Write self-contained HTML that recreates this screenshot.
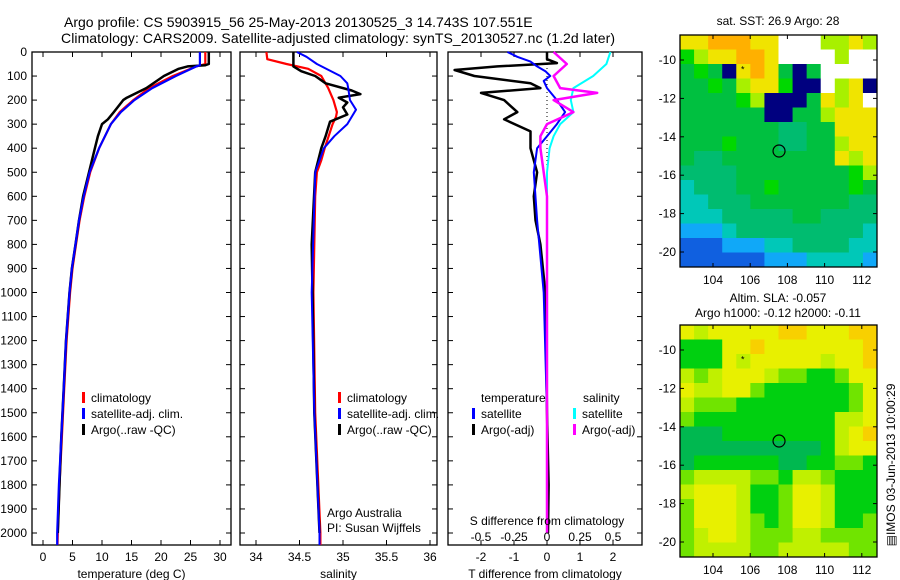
<!DOCTYPE html>
<html><head><meta charset="utf-8"><style>
body{margin:0;background:#fff;}
svg{display:block;font-family:"Liberation Sans",sans-serif;}
text{fill:#000;}
</style></head><body>
<svg id="s" width="900" height="580" viewBox="0 0 900 580">
<text x="64" y="27" font-size="14">Argo profile: CS 5903915_56 25-May-2013 20130525_3 14.743S 107.551E</text>
<text x="61" y="43" font-size="14" textLength="554">Climatology: CARS2009. Satellite-adjusted climatology: synTS_20130527.nc (1.2d later)</text>
</svg>
<script>
const depthTicks=[0,100,200,300,400,500,600,700,800,900,1000,1100,1200,1300,1400,1500,1600,1700,1800,1900,2000];
const tempTicks=[0,5,10,15,20,25,30];
const salTicks=[34,34.5,35,35.5,36];
const salTickLabels=["34","34.5","35","35.5","36"];
const tdTicks=[-2,-1,0,1,2];
const sdTicks=[-0.5,-0.25,0,0.25,0.5];
const sdTickLabels=["-0.5","-0.25","0","0.25","0.5"];
// temperature profiles
const tClimD=[0,50,60,100,150,200,250,300,400,500,600,700,800,900,1000,1200,1400,1600,1800,2000,2050];
const tClim=[27.5,27.5,26,22,18,15.3,13,11.5,9.5,8,7,6.2,5.6,5.0,4.6,4.0,3.6,3.2,2.8,2.5,2.45];
const tSatD=[0,55,60,100,150,200,250,300,400,500,600,700,800,900,1000,1200,1400,1600,1800,2000,2050];
const tSat=[26.6,26.6,26,22.5,18.5,15.5,13.2,11.5,9.5,7.9,6.9,6.1,5.5,4.9,4.5,3.9,3.5,3.1,2.7,2.4,2.4];
const tArgoD=[0,50,55,60,70,100,150,190,200,250,280,300,350,400,500,600,700,800,900,1000,1200,1400,1600,1800,2000];
const tArgo=[28.1,28.1,27.5,24.5,23,20.5,17.5,14.2,13.6,12,11,10,9.3,8.8,7.8,6.8,6.1,5.5,4.9,4.5,3.9,3.5,3.1,2.8,2.5];
// salinity profiles
const sClimD=[0,30,50,70,100,150,200,250,270,300,400,450,500,600,1000,1500,2000,2050];
const sClim=[34.12,34.13,34.35,34.6,34.75,34.83,34.89,34.93,34.92,34.88,34.79,34.75,34.70,34.68,34.66,34.68,34.74,34.74];
const sSatD=[0,20,50,100,130,150,200,240,300,350,400,500,1000,1500,2000,2050];
const sSat=[34.47,34.58,34.7,34.97,35.05,35.06,35.08,35.15,35.05,34.9,34.78,34.68,34.64,34.67,34.73,34.73];
const sArgoD=[0,60,80,100,130,160,175,190,210,230,260,290,350,400,500,800,1000,1500,2000];
const sArgo=[34.43,34.43,34.52,34.68,34.8,35.1,35.2,34.95,35.05,35.0,35.05,34.85,34.8,34.75,34.68,34.64,34.65,34.67,34.73];
// difference profiles
const dTArgoD=[0,30,46,60,75,100,130,150,170,200,250,280,330,400,500,600,700,800,1000,1500,1800,2000];
const dTArgo=[0,0,0.3,-1.5,-2.8,-2.2,-0.5,-0.2,-2,-1.3,-0.9,-1.3,-0.5,-0.5,-0.3,-0.4,-0.35,-0.2,-0.05,0,0.05,0.03];
const dTSatD=[0,20,40,60,80,100,120,150,200,250,300,350,400,500,700,1000,1500,2000];
const dTSat=[-1.2,-0.9,-0.5,-0.3,-0.05,0.1,-0.1,0,0.3,0.55,0.3,0,-0.3,-0.4,-0.3,-0.1,0,0];
const dSArgoD=[0,50,100,150,170,200,250,300,350,400,600,1000,2000];
const dSArgo=[0.05,0.15,0.05,0.1,0.38,0.05,0.2,0,-0.05,-0.05,0,0,0];
const dSSatD=[0,50,100,150,200,250,300,350,400,500,1000,2000];
const dSSat=[0.48,0.45,0.35,0.2,0.18,0.2,0.1,0.05,0.02,0,0,0];
// map grids (lon 102.5..112.9, lat -8.7..-20.7), values index into colormaps
const sstRows=["8899988WWW7787","6788998WWWW7WW","5650898505WWWW","5565788600W780","5555670005878W","55555500557888","55555554455888","55565554455788","54455555555878","44445555555567","34445565555565","33444555555544","33344444554444","22234444444443","11122233444433","11111122233332"];
const slaRows=["43444445544455","11144544444445","11143444443445","32344432211244","43344211111124","32221111111124","21111111111334","00011111111345","00000000001344","01111110011221","23333221332111","34443112443111","24443112443111","24443212443112","23443222332222","23333223333322"];
const lonTicks=[104,106,108,110,112];
const latTicks=[-10,-12,-14,-16,-18,-20];
const argoPos=[107.55,-14.74];
const prevPos=[105.6,-10.5];

const NS="http://www.w3.org/2000/svg";
const svg=document.getElementById('s');
function mk(tag,attrs,parent){const e=document.createElementNS(NS,tag);for(const k in attrs)e.setAttribute(k,attrs[k]);(parent||svg).appendChild(e);return e;}
const yTop=52,yBot=545;
const yD=d=>yTop+d*0.2405;
function panel(x0,x1,fx,ticks,labels,name,title){
  const g=mk('g',{});
  
  
  const r=mk('rect',{x:x0,y:yTop,width:x1-x0,height:yBot-yTop,fill:'none',stroke:'#000','stroke-width':1.3},g);
  
  
  ticks.forEach((t,i)=>{const x=fx(t);
    mk('line',{x1:x,x2:x,y1:yBot,y2:yBot-5,stroke:'#000'},g);
    mk('line',{x1:x,x2:x,y1:yTop,y2:yTop+5,stroke:'#000'},g);
    const tx=mk('text',{x:x,y:561,'font-size':12,'text-anchor':'middle'},g);tx.textContent=labels[i];
    
    
  });
  depthTicks.forEach(d=>{const y=yD(d);
    mk('line',{x1:x0,x2:x0+5,y1:y,y2:y,stroke:'#000'},g);
    mk('line',{x1:x1,x2:x1-5,y1:y,y2:y,stroke:'#000'},g);});
  const tt=mk('text',{x:(x0+x1)/2,y:578,'font-size':12,'text-anchor':'middle'},g);tt.textContent=title;
  
  
  return g;
}
function line(ds,vs,fx,color,w,name){
  const p=ds.map((d,i)=>(i?'L':'M')+fx(vs[i]).toFixed(1)+','+yD(d).toFixed(1)).join('');
  const e=mk('path',{d:p,fill:'none',stroke:color,'stroke-width':w,'stroke-linejoin':'round'});
  
  
}
function txt(x,y,s,name,extra){const t=mk('text',Object.assign({x:x,y:y,'font-size':12},extra||{}));t.textContent=s;
  
  return t;}
function leg(x,y,c,s,name){mk('rect',{x:x,y:y-10,width:3,height:11,fill:c});txt(x+9,y,s,name);}

depthTicks.forEach(d=>{txt(27,yD(d)+4,String(d),'y-tick-label',{'text-anchor':'end'});});

const fT=v=>43+v*5.9;
panel(32,231,fT,tempTicks,tempTicks.map(String),'temperature-panel','temperature (deg C)');
line(tClimD,tClim,fT,'#f00',2.2,'temp-climatology-line');
line(tArgoD,tArgo,fT,'#000',2.5,'temp-argo-line');
line(tSatD,tSat,fT,'#00f',2.2,'temp-satellite-line');
leg(82,402,'#f00','climatology','legend-climatology');
leg(82,418,'#00f','satellite-adj. clim.','legend-satellite');
leg(82,434,'#000','Argo(..raw -QC)','legend-argo');

const fS=v=>256+(v-34)*87;
panel(240,437,fS,salTicks,salTickLabels,'salinity-panel','salinity');
line(sClimD,sClim,fS,'#f00',2.2,'sal-climatology-line');
line(sArgoD,sArgo,fS,'#000',2.5,'sal-argo-line');
line(sSatD,sSat,fS,'#00f',2,'sal-satellite-line');
leg(338,402,'#f00','climatology','legend-climatology');
leg(338,418,'#00f','satellite-adj. clim.','legend-satellite');
leg(338,434,'#000','Argo(..raw -QC)','legend-argo');
txt(327,517,'Argo Australia','credit-line-1');
txt(327,532,'PI: Susan Wijffels','credit-line-2');

const fdT=v=>547+v*33, fdS=v=>547+v*132;
panel(448,642,fdT,tdTicks,tdTicks.map(String),'difference-panel','T difference from climatology');
mk('line',{x1:547,x2:547,y1:yTop,y2:yD(900),stroke:'#000','stroke-dasharray':'1,3'});
line(dTArgoD,dTArgo,fdT,'#000',2.5,'tdiff-argo-line');
line(dTSatD,dTSat,fdT,'#00f',2,'tdiff-satellite-line');
line(dSSatD,dSSat,fdS,'#0ff',2,'sdiff-satellite-line');
line(dSArgoD,dSArgo,fdS,'#f0f',2.5,'sdiff-argo-line');
txt(481,402,'temperature','legend-temperature-header');
txt(583,402,'salinity','legend-salinity-header');
leg(472,418,'#00f','satellite','legend-t-satellite');
leg(472,434,'#000','Argo(-adj)','legend-t-argo');
leg(573,418,'#0ff','satellite','legend-s-satellite');
leg(573,434,'#f0f','Argo(-adj)','legend-s-argo');
txt(547,525,'S difference from climatology','s-axis-title',{'text-anchor':'middle'});
sdTicks.forEach((v,i)=>txt(fdS(v),541,sdTickLabels[i],'s-tick-label',{'text-anchor':'middle'}));

const sstCol={'0':'#00007f','1':'#1060e0','2':'#10a8f8','3':'#00c8b8','4':'#00bc70','5':'#00c040','6':'#00d800','7':'#a8f000','8':'#f0e400','9':'#ffb000','W':'#ffffff'};
const slaCol={'0':'#00b850','1':'#00d010','2':'#70e400','3':'#c0f000','4':'#e8f000','5':'#f8d000'};
function map(y0,rows,cols,name,grid){
  const x0=680,x1=877,y1=y0+232;
  const fx=l=>713+(l-104)*18.6, fy=la=>y0+25+(-10-la)*19.2;
  const g=mk('g',{});
  
  
  const nr=rows.length,nc=rows[0].length,cw=(x1-x0)/nc,ch=(y1-y0)/nr;
  rows.forEach((r,i)=>{for(let j=0;j<nc;j++){const c=mk('rect',{x:x0+j*cw,y:y0+i*ch,width:cw+0.5,height:ch+0.5,fill:cols[r[j]]},g);
    
    }});
  mk('rect',{x:x0,y:y0,width:x1-x0,height:y1-y0,fill:'none',stroke:'#000','stroke-width':1.3},g);
  lonTicks.forEach(l=>{const x=fx(l);mk('line',{x1:x,x2:x,y1:y1,y2:y1-4,stroke:'#000'},g);mk('line',{x1:x,x2:x,y1:y0,y2:y0+4,stroke:'#000'},g);
    txt(x,y1+17,String(l),'lon-tick-label',{'text-anchor':'middle'});});
  latTicks.forEach(l=>{const y=fy(l);mk('line',{x1:x0,x2:x0+4,y1:y,y2:y,stroke:'#000'},g);mk('line',{x1:x1,x2:x1-4,y1:y,y2:y,stroke:'#000'},g);
    txt(x0-4,y+4,String(l),'lat-tick-label',{'text-anchor':'end'});});
  const c=mk('circle',{cx:fx(argoPos[0]),cy:fy(argoPos[1]),r:6,fill:'none',stroke:'#000','stroke-width':1.2},g);
  
  
  const s=mk('text',{x:fx(prevPos[0]),y:fy(prevPos[1])+3,'font-size':9,'text-anchor':'middle'},g);s.textContent='*';
  
  
}
map(35,sstRows,sstCol,'sst-map','sst');
map(325,slaRows,slaCol,'sla-map','sla');
txt(778,25,'sat. SST: 26.9 Argo: 28','sst-map-title',{'text-anchor':'middle'});
txt(778,302,'Altim. SLA: -0.057','sla-map-title-1',{'text-anchor':'middle'});
txt(778,317,'Argo h1000: -0.12 h2000: -0.11','sla-map-title-2',{'text-anchor':'middle'});
txt(0,0,'\u25A4IMOS 03-Jun-2013 10:00:29','imos-timestamp',{'text-anchor':'middle',transform:'translate(895,465) rotate(-90)'});
</script>
</body></html>
